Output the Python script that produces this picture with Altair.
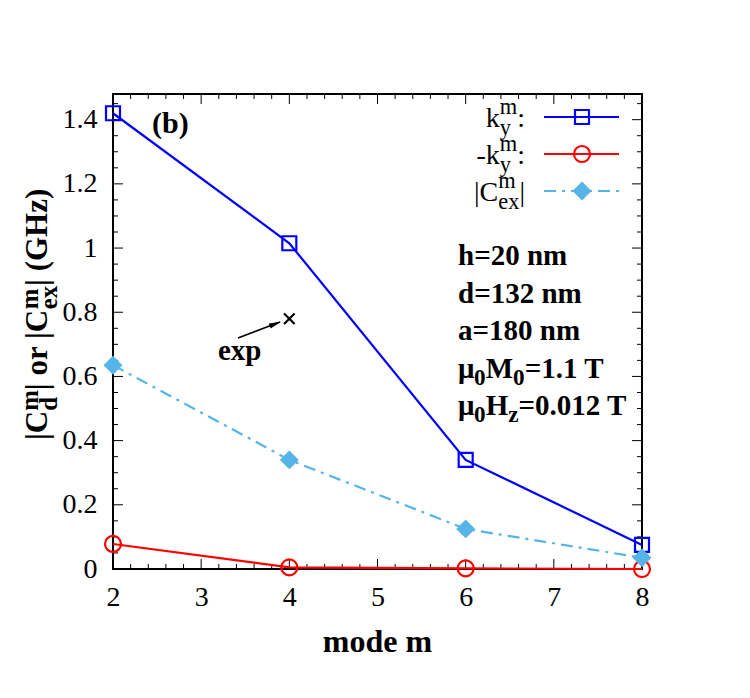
import math
import altair as alt
import pandas as pd

# ---- data -------------------------------------------------------------
modes = [2, 4, 6, 8]
ky_pos = [1.42, 1.015, 0.34, 0.075]      # k_y^m
ky_neg = [0.078, 0.005, 0.002, 0.0]      # -k_y^m
c_ex = [0.635, 0.34, 0.125, 0.035]       # |C_ex^m|

exp_mode = [4.0]                          # measured point
exp_val = [0.78]

x_major = [2, 3, 4, 5, 6, 7, 8]
x_minor = [2.2, 2.4, 2.6, 2.8, 3.2, 3.4, 3.6, 3.8, 4.2, 4.4, 4.6, 4.8,
           5.2, 5.4, 5.6, 5.8, 6.2, 6.4, 6.6, 6.8, 7.2, 7.4, 7.6, 7.8]
y_major = [0, 0.2, 0.4, 0.6, 0.8, 1.0, 1.2, 1.4]
y_minor = [0.05, 0.1, 0.15, 0.25, 0.3, 0.35, 0.45, 0.5, 0.55, 0.65, 0.7,
           0.75, 0.85, 0.9, 0.95, 1.05, 1.1, 1.15, 1.25, 1.3, 1.35, 1.45]

params = ["h=20 nm", "d=132 nm", "a=180 nm"]

# ---- geometry / style -------------------------------------------------
W, H = 529, 475
FONT = "'Liberation Serif', 'Times New Roman', Times, serif"
BLUE, RED, CYAN = "#0000ff", "#ff0000", "#56b4e9"
DASHDOT = [12, 6, 3, 6]

xs = alt.Scale(domain=[2, 8], nice=False, zero=False)
ys = alt.Scale(domain=[0, 1.48], nice=False, zero=False)

x_axis = alt.Axis(values=x_major, format="d", ticks=False, domain=False,
                  grid=False, title=None, labelFont=FONT, labelFontSize=28,
                  labelColor="black", labelPadding=14, labelFlush=False)
y_axis = alt.Axis(values=y_major, ticks=False, domain=False, grid=False,
                  title=None, labelFont=FONT, labelFontSize=28,
                  labelColor="black", labelPadding=16, labelFlush=False,
                  labelExpr="format(datum.value, '.1~f')")


def X(field):
    return alt.X(field, type="quantitative", scale=xs, axis=x_axis)


def Y(field):
    return alt.Y(field, type="quantitative", scale=ys, axis=y_axis)


df = pd.DataFrame({"m": modes, "kp": ky_pos, "kn": ky_neg, "cex": c_ex})
base = alt.Chart(df)

layers = []

# tick marks on all four sides, pointing into the frame
for vals, ln in ((x_major, 10), (x_minor, 5)):
    t = alt.Chart(pd.DataFrame({"v": vals}))
    layers.append(t.mark_rule(color="black", strokeWidth=1).encode(
        x=X("v"), y=alt.value(H), y2=alt.value(H - ln)))
    layers.append(t.mark_rule(color="black", strokeWidth=1).encode(
        x=X("v"), y=alt.value(0), y2=alt.value(ln)))
for vals, ln in ((y_major, 10), (y_minor, 5)):
    t = alt.Chart(pd.DataFrame({"v": vals}))
    layers.append(t.mark_rule(color="black", strokeWidth=1).encode(
        y=Y("v"), x=alt.value(0), x2=alt.value(ln)))
    layers.append(t.mark_rule(color="black", strokeWidth=1).encode(
        y=Y("v"), x=alt.value(W), x2=alt.value(W - ln)))

# series
layers.append(base.mark_line(color=BLUE, strokeWidth=2.2).encode(x=X("m"), y=Y("kp")))
layers.append(base.mark_point(shape="square", size=196, color=BLUE, strokeWidth=2.2,
                              filled=False, opacity=1).encode(x=X("m"), y=Y("kp")))
layers.append(base.mark_line(color=RED, strokeWidth=2.2).encode(x=X("m"), y=Y("kn")))
layers.append(base.mark_point(shape="circle", size=256, color=RED, strokeWidth=2.2,
                              filled=False, opacity=1).encode(x=X("m"), y=Y("kn")))
layers.append(base.mark_line(color=CYAN, strokeWidth=2.2, strokeDash=DASHDOT).encode(
    x=X("m"), y=Y("cex")))
layers.append(base.mark_point(shape="diamond", size=360, color=CYAN, filled=True,
                              opacity=1).encode(x=X("m"), y=Y("cex")))

# measured value: a cross
exp_df = pd.DataFrame({"m": exp_mode, "v": exp_val})
layers.append(alt.Chart(exp_df).mark_point(
    shape="M-1,-1L1,1M-1,1L1,-1", size=110, color="black", strokeWidth=2.2,
    filled=False, opacity=1).encode(x=X("m"), y=Y("v")))

# ---- text helpers -----------------------------------------------------
REG = {" ": 250, "-": 333, ":": 278, "|": 200, "C": 667, "k": 500,
       "m": 778, "y": 500, "e": 444, "x": 500}
BOLD = {" ": 250, "|": 220, "C": 722, "d": 556, "m": 833, "e": 444,
        "x": 500, "o": 500, "r": 444, "(": 333, ")": 333, "G": 778,
        "H": 778, "z": 444, "h": 556, "=": 570, "n": 556, "a": 500,
        "M": 944, "T": 667, ".": 250, "\u03bc": 556, "b": 556, "p": 556,
        "0": 500, "1": 500, "2": 500, "8": 500}

one = pd.DataFrame({"a": [0]})


def txt(s, x, y, size, bold=False, angle=0, color="black"):
    kw = dict(text=s, font=FONT, fontSize=size, align="left",
              baseline="alphabetic", color=color,
              fontWeight="bold" if bold else "normal")
    if angle:
        kw["angle"] = angle
    return alt.Chart(one).mark_text(**kw).encode(x=alt.value(x), y=alt.value(y))


def width(s, size, bold):
    tab = BOLD if bold else REG
    return sum(tab.get(c, 500) for c in s) * size / 1000.0


def rich(parts, x, y, size, bold, sup=-12, sub=8, rot=False, right=False):
    """parts: list of str or (sup_text, sub_text) stacks at 0.8 size."""
    small = size * 0.8
    widths = []
    for p in parts:
        if isinstance(p, str):
            widths.append(width(p, size, bold))
        else:
            widths.append(max(width(p[0], small, bold), width(p[1], small, bold)))
    pos = x - sum(widths) if right else x
    out = []
    for p, w in zip(parts, widths):
        if isinstance(p, str):
            segs = [(p, size, 0)]
        else:
            segs = [(p[0], small, sup), (p[1], small, sub)]
        for s, fs, off in segs:
            if not s:
                continue
            if rot:
                out.append(txt(s, y + off, pos, fs, bold, angle=270))
            else:
                out.append(txt(s, pos, y + off, fs, bold))
        pos = pos + w if not rot else pos - w
    return out


# legend (text right-aligned, sample line and symbol)
leg_rows = [
    (["k", ("m", "y"), ":"], 23, dict(color=BLUE, dash=None, shape="square", size=196, filled=False)),
    (["-k", ("m", "y"), ":"], 60, dict(color=RED, dash=None, shape="circle", size=256, filled=False)),
    (["|C", ("m", "ex"), "|"], 97, dict(color=CYAN, dash=DASHDOT, shape="diamond", size=360, filled=True)),
]
for parts, yc, st in leg_rows:
    layers += rich(parts, 412, yc + 10, 28, False, sup=-13, sub=8, right=True)
    rk = dict(color=st["color"], strokeWidth=2.2)
    if st["dash"]:
        rk["strokeDash"] = st["dash"]
    layers.append(alt.Chart(one).mark_rule(**rk).encode(
        x=alt.value(431), x2=alt.value(506), y=alt.value(yc)))
    layers.append(alt.Chart(one).mark_point(
        shape=st["shape"], size=st["size"], color=st["color"], filled=st["filled"],
        strokeWidth=2.2, opacity=1).encode(x=alt.value(469), y=alt.value(yc)))

# panel tag and parameter block
layers.append(txt("(b)", 39, 39, 30, True))
for i, s in enumerate(params):
    layers.append(txt(s, 345, 171 + 37.5 * i, 29, True))
layers += rich(["\u03bc", ("", "0"), "M", ("", "0"), "=1.1 T"], 345, 283.5, 29, True, sub=7)
layers += rich(["\u03bc", ("", "0"), "H", ("", "z"), "=0.012 T"], 345, 321, 29, True, sub=7)

# "exp" label with arrow to the measured point
ax0, ay0, ax1, ay1 = 125, 244, 167, 228
ang = math.degrees(math.atan2(ay1 - ay0, ax1 - ax0)) % 360
layers.append(alt.Chart(one).mark_rule(color="black", strokeWidth=1.5).encode(
    x=alt.value(ax0), y=alt.value(ay0), x2=alt.value(ax1), y2=alt.value(ay1)))
layers.append(alt.Chart(one).mark_point(
    shape="M1,0L-1,-0.45L-1,0.45Z", size=144, color="black", filled=True,
    opacity=1, angle=ang).encode(x=alt.value(ax1 - 5 * math.cos(math.radians(ang))),
                                 y=alt.value(ay1 - 5 * math.sin(math.radians(ang)))))
layers.append(txt("exp", 105, 266, 29, True))

# axis titles
layers.append(txt("mode m", 264.5 - width("mode m", 32, True) / 2, 558, 32, True))
layers += rich(["|C", ("m", "d"), "| or |C", ("m", "ex"), "| (GHz)"],
               346, -66, 31, True, sup=-9, sub=10, rot=True)

chart = alt.layer(*layers).properties(
    width=W, height=H,
    padding={"left": 113, "top": 94, "right": 108, "bottom": 129},
    autosize=alt.AutoSizeParams(type="none"),
).configure_view(
    stroke="black", strokeWidth=2
).configure_axis(
    labelFont=FONT, labelFontSize=28, labelColor="black"
)

chart.save("out.html", embed_options={"renderer": "svg", "actions": False})
